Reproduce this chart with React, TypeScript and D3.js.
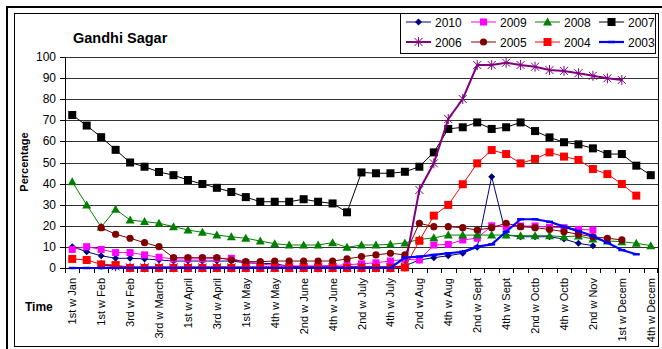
import React from 'react';
import * as d3 from 'd3';

const W = 662;
const H = 349;
const FONT = 'Arial, "Liberation Sans", sans-serif';

const weeks = [
  '1st w Jan', '3rd w Jan', '1st w Feb', '2nd w Feb', '3rd w Feb', '1st w March',
  '3rd w March', '4th w March', '1st w April', '2nd w April', '3rd w April', '4th w April',
  '1st w May', '3rd w May', '4th w May', '1st w June', '2nd w June', '3rd w June',
  '4th w June', '1st w July', '2nd w July', '3rd w July', '4th w July', '1st w Aug',
  '2nd w Aug', '3rd w Aug', '4th w Aug', '1st w Sept', '2nd w Sept', '3rd w Sept',
  '4th w Sept', '1st w Octb', '2nd w Octb', '3rd w Octb', '4th w Octb', '1st w Nov',
  '2nd w Nov', '4th w Nov', '1st w Decem', '3rd w Decem', '4th w Decem',
];

const yTicks = [0, 10, 20, 30, 40, 50, 60, 70, 80, 90, 100];

const s2010 = [10.1, 7.7, 5.8, 4.6, 4.6, 4.3, 3.8, 3.3, 3.3, 3.3, 3.3, 3.3, 2.5, 2.2, 2, 0.8, 0.5, 0.5, 0.5, 0.5, 0.5, 0.5, 0.5, 1, 3.8, 4.9, 5.8, 7, 9.8, 43.3, 15.6, 14.8, 14.8, 14.8, 13.7, 11.7, 10.6, null, null, null, null];
const s2009 = [8.8, 10.1, 8.8, 7.3, 7.3, 6.2, 5.1, 4.3, 4.3, 4.3, 4.5, 4.6, 2.6, 2, 1.2, 1, 1, 1, 1.2, 1.5, 2, 2.5, 3.3, 4.1, 3.8, 10.9, 11.2, 13.3, 14.1, 20, 19.6, 19.9, 19.9, 19.3, 19.1, 18.3, 18, null, null, null, null];
const s2008 = [40.9, 29.9, 19.4, 27.8, 22.7, 22, 21.2, 19.6, 18, 16.9, 15.6, 14.8, 14.1, 12.8, 11.5, 10.9, 10.9, 10.9, 12, 9.8, 10.9, 10.9, 11.2, 11.9, 13.5, 14.3, 15.6, 15.6, 15.6, 15.6, 15.6, 15.3, 15.3, 15.3, 14.8, 15.2, 13.7, 12.8, 12.5, 11.7, 10.6];
const s2007 = [72.5, 67.5, 62, 56, 50, 48, 45.5, 44, 41.7, 39.8, 38, 36, 33.6, 31.4, 31.4, 31.4, 32.6, 31.4, 30.6, 26.4, 45.3, 44.9, 44.9, 45.6, 48, 54.8, 65.9, 66.7, 69, 65.9, 66.7, 69, 64.9, 61.9, 59.6, 58.6, 56.7, 54, 54, 48.5, 44];
const s2006 = [null, null, 1.5, 0.8, 0.3, 0.3, 0.3, 0.3, 0.3, 0.3, 0.3, 0.3, 0.3, 0.3, 0.3, 0.3, 0.3, 0.3, 0.3, 0.3, 0.3, 0.3, 0.3, 0.6, 37, 49.6, 70.6, 80.1, 96.2, 96.2, 97.3, 96.2, 95.4, 93.8, 93.4, 92.3, 91.1, 89.9, 89.1, null, null];
const s2005 = [null, null, 19.1, 16, 14.1, 12, 10.1, 4.9, 4.9, 4.9, 4.9, 3.8, 3, 3, 3.3, 3.3, 3.3, 3.3, 3.3, 4.3, 5.4, 6.2, 7, 6.2, 21.2, 19.6, 19.6, 19.1, 18, 19.1, 21.2, 19.6, 19.1, 18.3, 17.2, 16, 14.8, 14.1, 13.3, null, null];
const s2004 = [4.3, 3.8, 1.7, 1.4, 0, 0, 0, 0, 0, 0, 0, 0, 0, 0, 0, 0, 0, 0, 0, 0, 0, 0, 0, 0.3, 12.9, 24.8, 29.9, 39.7, 49.6, 55.9, 54, 49.6, 51.7, 54.8, 52.8, 51.2, 46.9, 44.5, 39.8, 34.3, null];
const s2003 = [0, 0, 0, 0, 0, 0, 0, 0, 0, 0, 0, 0, 0, 0, 0, 0, 0, 0, 0, 0, 0, 0, 0, 4.9, 5.4, 6.2, 7, 7.7, 10.1, 11.2, 17.2, 23.1, 23.1, 21.9, 19.6, 17.5, 15.2, 12, 8.5, 6.5, null];

const series = [
  { name: '2010', values: s2010, color: '#000080', marker: 'diamond', width: 1 },
  { name: '2009', values: s2009, color: '#FF00FF', marker: 'square7', width: 1 },
  { name: '2008', values: s2008, color: '#008000', marker: 'triangle', width: 1 },
  { name: '2007', values: s2007, color: '#000000', marker: 'square8', width: 1 },
  { name: '2006', values: s2006, color: '#800080', marker: 'star', width: 2 },
  { name: '2005', values: s2005, color: '#800000', marker: 'circle', width: 1 },
  { name: '2004', values: s2004, color: '#FF0000', marker: 'square8', width: 1 },
  { name: '2003', values: s2003, color: '#0000FF', marker: 'dash', width: 2.2 },
];

const plot = { left: 65, right: 658, top: 57, bottom: 268 };

function Marker({ type, x, y, color }: { type: string; x: number; y: number; color: string }) {
  if (type === 'diamond')
    return <path d={`M${x},${y - 3.5}L${x + 3.5},${y}L${x},${y + 3.5}L${x - 3.5},${y}Z`} fill={color} />;
  if (type === 'square7') return <rect x={x - 3.5} y={y - 3.5} width={7} height={7} fill={color} />;
  if (type === 'square8') return <rect x={x - 4} y={y - 4} width={8} height={8} fill={color} />;
  if (type === 'triangle')
    return <path d={`M${x},${y - 4.5}L${x + 4.5},${y + 3.5}L${x - 4.5},${y + 3.5}Z`} fill={color} />;
  if (type === 'circle') return <circle cx={x} cy={y} r={3.6} fill={color} />;
  if (type === 'dash') return <rect x={x - 3.5} y={y - 1.2} width={7} height={2.4} fill={color} />;
  // star: x with a vertical bar
  return (
    <path
      d={`M${x - 4},${y - 4}L${x + 4},${y + 4}M${x - 4},${y + 4}L${x + 4},${y - 4}M${x},${y - 5}L${x},${y + 5}`}
      stroke={color}
      strokeWidth={1}
      fill="none"
    />
  );
}

export default function App() {
  const x = d3.scalePoint<string>().domain(weeks).range([plot.left, plot.right]).padding(0.5);
  const y = d3.scaleLinear().domain([0, 100]).range([plot.bottom, plot.top]);
  const step = x.step();

  const line = d3
    .line<number | null>()
    .defined((d) => d !== null)
    .x((_, i) => x(weeks[i])!)
    .y((d) => y(d as number));

  const legendCols = [406, 471, 535, 599];
  const legendRows = [22, 42];

  return (
    <svg width={W} height={H} style={{ position: 'absolute', left: 0, top: 0 }} fontFamily={FONT}>
      <rect x={0} y={0} width={W} height={H} fill="#fff" />
      {/* frames */}
      <rect x={7} y={7} width={W} height={H} fill="none" stroke="#000" strokeWidth={2} />
      <rect x={14.5} y={13.5} width={644} height={333} fill="none" stroke="#000" strokeWidth={1} />

      <text x={73} y={43} fontSize={14.5} fontWeight="bold">Gandhi Sagar</text>

      {/* gridlines */}
      {yTicks.filter((t) => t > 0).map((t) => (
        <line key={t} x1={plot.left} x2={plot.right} y1={Math.round(y(t)) + 0.5} y2={Math.round(y(t)) + 0.5} stroke="#333" strokeWidth={1} />
      ))}
      {/* axes */}
      <line x1={plot.left + 0.5} x2={plot.left + 0.5} y1={plot.top} y2={plot.bottom} stroke="#000" />
      <line x1={plot.left} x2={plot.right} y1={plot.bottom + 0.5} y2={plot.bottom + 0.5} stroke="#000" />
      {yTicks.map((t) => (
        <g key={t}>
          <line x1={plot.left - 5} x2={plot.left} y1={Math.round(y(t)) + 0.5} y2={Math.round(y(t)) + 0.5} stroke="#000" />
          <text x={plot.left - 9} y={y(t) + 4} fontSize={12} textAnchor="end">{t}</text>
        </g>
      ))}
      {weeks.map((w, i) => (
        <line key={'t' + i} x1={Math.round(x(w)! - step / 2) + 0.5} x2={Math.round(x(w)! - step / 2) + 0.5} y1={plot.bottom} y2={plot.bottom + 5} stroke="#000" />
      ))}
      <line x1={plot.right - 0.5} x2={plot.right - 0.5} y1={plot.bottom} y2={plot.bottom + 5} stroke="#000" />
      {weeks.map((w, i) =>
        i % 2 === 0 ? (
          <text key={'l' + i} transform={`translate(${x(w)! + 4},${plot.bottom + 10}) rotate(-90)`} fontSize={11} textAnchor="end">
            {w}
          </text>
        ) : null
      )}

      <text transform="translate(28,162) rotate(-90)" fontSize={11} fontWeight="bold" textAnchor="middle">Percentage</text>
      <text x={25} y={311} fontSize={12} fontWeight="bold">Time</text>

      {/* series */}
      {series.map((s) => (
        <g key={s.name}>
          <path d={line(s.values) || ''} fill="none" stroke={s.color} strokeWidth={s.width} />
          {s.values.map((v, i) =>
            v === null ? null : <Marker key={i} type={s.marker} x={x(weeks[i])!} y={y(v)} color={s.color} />
          )}
        </g>
      ))}

      {/* legend */}
      <rect x={400.5} y={13.5} width={255} height={40} fill="#fff" stroke="#000" />
      {series.map((s, k) => {
        const lx = legendCols[k % 4];
        const ly = legendRows[Math.floor(k / 4)];
        return (
          <g key={'lg' + s.name}>
            <line x1={lx} x2={lx + 25} y1={ly} y2={ly} stroke={s.color} strokeWidth={s.width} />
            <Marker type={s.marker} x={lx + 12.5} y={ly} color={s.color} />
            <text x={lx + 29} y={ly + 4.5} fontSize={12}>{s.name}</text>
          </g>
        );
      })}
    </svg>
  );
}
